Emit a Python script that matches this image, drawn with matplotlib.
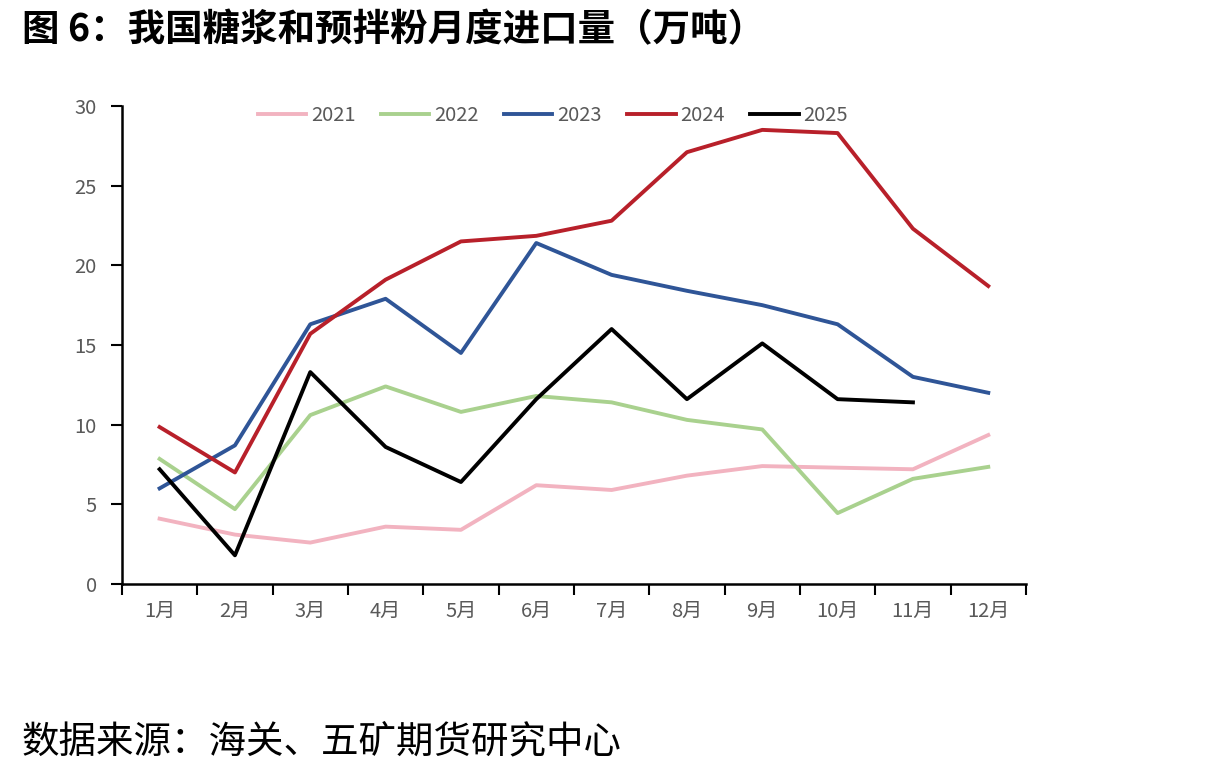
import numpy as np
import matplotlib.pyplot as plt

plt.rcParams['font.family'] = ['Noto Sans CJK SC', 'DejaVu Sans']

months = ['1月', '2月', '3月', '4月', '5月', '6月', '7月', '8月', '9月', '10月', '11月', '12月']

y2021 = [4.1, 3.1, 2.6, 3.6, 3.4, 6.2, 5.9, 6.8, 7.4, 7.3, 7.2, 9.35]
y2022 = [7.85, 4.7, 10.6, 12.4, 10.8, 11.8, 11.4, 10.3, 9.7, 4.45, 6.6, 7.35]
y2023 = [6.0, 8.7, 16.3, 17.9, 14.5, 21.4, 19.4, 18.4, 17.5, 16.3, 13.0, 12.0]
y2024 = [9.85, 7.0, 15.7, 19.1, 21.5, 21.85, 22.8, 27.1, 28.5, 28.3, 22.3, 18.7]
y2025 = [7.2, 1.8, 13.3, 8.6, 6.4, 11.6, 16.0, 11.6, 15.1, 11.6, 11.4]

series = [('2021', y2021, '#F2B3C0'),
          ('2022', y2022, '#A9D18E'),
          ('2023', y2023, '#2F5597'),
          ('2024', y2024, '#B8202A'),
          ('2025', y2025, '#000000')]

fig = plt.figure(figsize=(12.17, 7.73), dpi=100)
ax = fig.add_axes([0.1002, 0.2445, 0.7428, 0.6184])

x = np.arange(len(months))
for name, vals, col in series:
    ax.plot(x[:len(vals)], vals, color=col, lw=2.8, label=name)

ax.set_xlim(-0.5, 11.5)
ax.set_ylim(0, 30)
ax.set_yticks(range(0, 31, 5))
ax.set_xticks(x)
ax.set_xticklabels(months)
ax.set_xticks(np.arange(-0.5, 12, 1), minor=True)
ax.tick_params(axis='x', which='major', length=0, pad=12)
ax.tick_params(axis='x', which='minor', length=8, width=1.5, direction='out')
ax.tick_params(axis='y', length=8, width=1.5, pad=10)
ax.tick_params(labelsize=14.5, labelcolor='#595959')

for s in ['top', 'right']:
    ax.spines[s].set_visible(False)
for s in ['left', 'bottom']:
    ax.spines[s].set_linewidth(1.8)
    ax.spines[s].set_color('black')

leg = ax.legend(loc='upper center', bbox_to_anchor=(0.477, 1.04), ncol=5, frameon=False,
                fontsize=14.5, handlelength=2.4, columnspacing=1.25, handletextpad=0.25)
for t in leg.get_texts():
    t.set_color('#595959')

fig.text(0.018, 0.961, '图 6：我国糖浆和预拌粉月度进口量（万吨）', fontsize=27,
         fontweight='bold', va='center', ha='left')
fig.text(0.018, 0.040, '数据来源：海关、五矿期货研究中心', fontsize=27,
         va='center', ha='left')

fig.savefig('out.png', dpi=100)
